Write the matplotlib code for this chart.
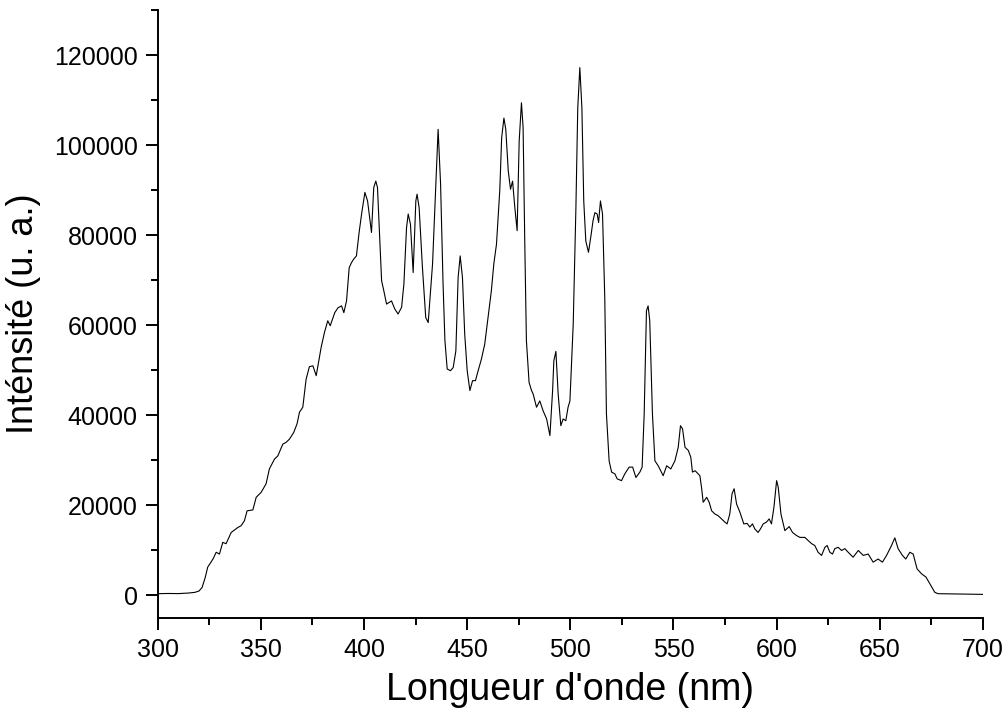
import matplotlib
matplotlib.use("Agg")
import matplotlib.pyplot as plt
from matplotlib.ticker import MultipleLocator

plt.rcParams['font.family'] = ['Liberation Sans', 'DejaVu Sans']

# spectrum (wavelength in nm, intensity in a.u.)
wavelength = [
    300, 305, 310, 315, 318, 320, 321.5, 323, 324.2, 325.8, 327, 328.3, 329.9,
    331.5, 333.1, 335.6, 338.8, 340.4, 342.0, 343.3, 346.1, 347.7, 350.1, 352.5,
    354.1, 356.6, 358.2, 360.6, 362.2, 363.8, 365.9, 367.5, 368.7, 370.3, 371.9,
    373.5, 375.2, 376.8, 379.2, 380.8, 382.4, 383.6, 385.8, 387.4, 389.1, 390.2,
    391.5, 392.8, 393.9, 395.0, 396.3, 397.6, 398.8, 400.4, 401.7, 403.6, 404.7,
    405.7, 406.5, 408.5, 409.6, 410.9, 413.3, 414.9, 416.5, 418.2, 419.3, 420.6,
    421.4, 422.5, 423.8, 425.1, 425.7, 426.7, 428.3, 429.9, 431.1, 433.2, 434.8,
    435.9, 437.1, 438.3, 439.2, 440.3, 441.9, 443.2, 444.5, 445.6, 446.6, 447.7,
    448.8, 450.0, 451.3, 452.6, 454.0, 455.3, 456.9, 458.5, 460.1, 461.7, 462.9,
    464.2, 465.8, 466.7, 467.8, 468.7, 469.9, 471.0, 472.0, 473.1, 474.2, 475.2,
    476.3, 477.1, 477.9, 478.7, 480.0, 481.2, 482.0, 483.6, 485.2, 486.8, 488.5,
    490.1, 491.4, 492.0, 493.0, 494.1, 495.4, 496.5, 497.8, 498.9, 499.8, 501.4,
    502.7, 503.6, 504.6, 505.6, 506.5, 507.5, 508.8, 510.1, 511.0, 511.9, 513.0,
    513.7, 514.6, 515.6, 516.7, 517.5, 518.8, 520.0, 521.6, 522.7, 524.8, 526.4,
    528.5, 530.2, 531.8, 533.7, 534.8, 535.8, 536.9, 537.7, 538.5, 539.8, 541.0,
    542.6, 545.0, 546.7, 548.7, 550.7, 552.3, 553.4, 554.4, 555.6, 557.2, 558.4,
    559.2, 560.5, 562.0, 562.8, 563.6, 564.4, 566.1, 567.3, 568.5, 570.1, 571.7,
    573.3, 574.9, 576.0, 577.3, 578.4, 579.4, 580.6, 582.2, 584.1, 585.7, 587.0,
    588.3, 589.4, 591.0, 592.2, 593.5, 595.1, 596.4, 597.5, 598.7, 600.0, 600.8,
    602.1, 604.0, 606.1, 607.7, 609.7, 611.3, 613.7, 615.3, 617.0, 618.5, 620.1,
    621.8, 623.4, 624.5, 625.8, 627.1, 628.2, 629.8, 631.5, 633.1, 634.7, 637.1,
    639.6, 642.0, 644.4, 646.8, 649.2, 651.3, 653.3, 655.7, 657.3, 658.9, 661.0,
    662.6, 664.6, 666.2, 668.1, 670.3, 672.4, 674.3, 676.7, 678.3, 685, 690, 695,
    700,
]
intensity = [
    400, 450, 420, 550, 700, 1000, 1800, 4000, 6300, 7400, 8300, 9600, 9200,
    11800, 11500, 14000, 15100, 15500, 16600, 18800, 19000, 21800, 22900, 24800,
    28100, 30300, 31000, 33600, 34000, 34700, 36200, 38100, 40700, 41800, 48000,
    50800, 51000, 48800, 55100, 58400, 61000, 59900, 62800, 63900, 64300, 62800,
    65400, 72800, 73900, 74700, 75400, 80600, 84700, 89500, 87600, 80600, 90600,
    92000, 90600, 69900, 67600, 64700, 65400, 63600, 62500, 64000, 69100, 81700,
    84700, 82400, 71700, 87600, 89100, 86100, 72800, 61700, 60600, 73600, 91300,
    103500, 91300, 69100, 56600, 50300, 49900, 50600, 54300, 70600, 75400, 70600,
    58000, 49900, 45500, 47700, 47700, 49900, 52500, 55800, 61700, 67600, 73600,
    78000, 90000, 101600, 106000, 103500, 94300, 90200, 92000, 86100, 81000, 100900,
    109400, 103900, 78700, 56600, 47300, 45500, 44700, 41800, 43200, 41000, 39200,
    35500, 45500, 52100, 54200, 44700, 37700, 39200, 38800, 41800, 43200, 60300,
    86100, 108300, 117200, 108300, 87600, 78700, 76200, 80200, 83200, 85000, 84700,
    82800, 87600, 84700, 66000, 40300, 29900, 27400, 27000, 25900, 25500, 27000,
    28500, 28500, 26200, 27400, 28500, 40300, 63200, 64300, 61000, 40300, 29900,
    28800, 26600, 28800, 28100, 29900, 32900, 37700, 37000, 32900, 32200, 30700,
    27400, 27700, 27000, 26600, 24000, 20700, 21800, 20700, 18800, 18100, 17700,
    17000, 16300, 15900, 18100, 22600, 23700, 20300, 18500, 15900, 16000, 15200,
    15900, 14800, 14000, 14800, 15900, 16300, 17000, 15900, 19600, 25500, 24000,
    18100, 14400, 15300, 14000, 13300, 12900, 12900, 12200, 11500, 11100, 9600,
    8900, 10700, 11100, 9600, 9200, 10400, 10700, 10000, 10400, 9600, 8500,
    10000, 8900, 9200, 7400, 8100, 7400, 8900, 11100, 12800, 10400, 8900,
    8100, 9600, 9200, 5900, 4800, 4100, 2600, 700, 400, 350, 300, 300,
    250,
]

fig = plt.figure(figsize=(10.05, 7.12), dpi=100)
ax = fig.add_axes([0.157, 0.132, 0.821, 0.854])

ax.plot(wavelength, intensity, color='black', linewidth=0.8)

ax.set_xlim(300, 700)
ax.set_ylim(-5000, 130000)
ax.xaxis.set_major_locator(MultipleLocator(50))
ax.xaxis.set_minor_locator(MultipleLocator(25))
ax.yaxis.set_major_locator(MultipleLocator(20000))
ax.yaxis.set_minor_locator(MultipleLocator(10000))

for side in ['top', 'right']:
    ax.spines[side].set_visible(False)
for side in ['left', 'bottom']:
    ax.spines[side].set_linewidth(1.4)

ax.tick_params(which='major', length=8.6, width=1.4, labelsize=18, pad=6)
ax.tick_params(which='minor', length=5, width=1.4)

ax.set_xlabel("Longueur d'onde (nm)", fontsize=27, labelpad=7)
ax.set_ylabel("Inténsité (u. a.)", fontsize=26, labelpad=9)

fig.savefig("out.png", dpi=100)
